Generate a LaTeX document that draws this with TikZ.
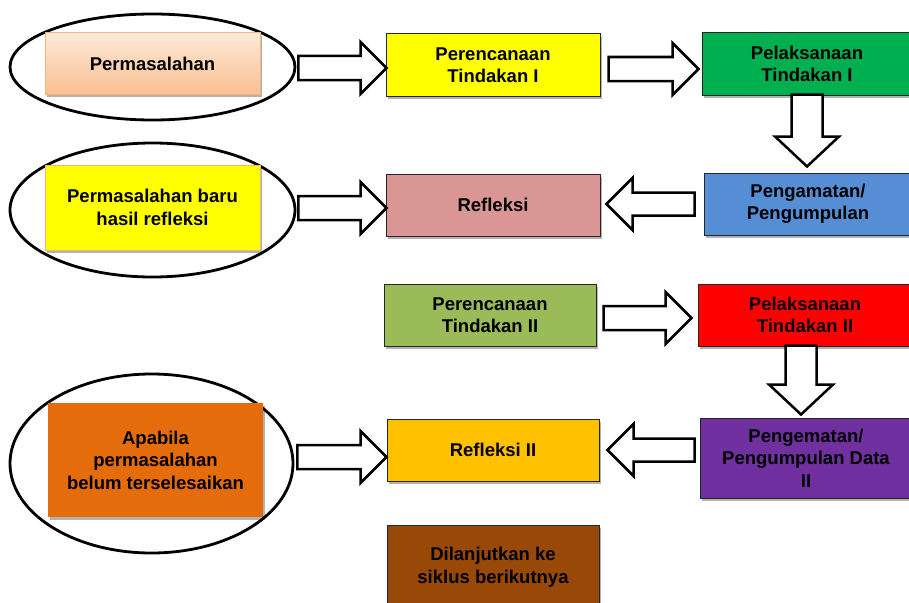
\documentclass[tikz,border=0pt]{standalone}
\usepackage{fontspec}
\setmainfont{Liberation Sans}
\usepackage{tikz}
\usetikzlibrary{calc, shapes.geometric, shadows}
\definecolor{garis}{HTML}{262626}
\definecolor{jinggamuda}{HTML}{FDE9D9}
\definecolor{jinggatua}{HTML}{FAC090}
\definecolor{jinggagaris}{HTML}{F9B074}
\definecolor{kuning}{HTML}{FFFF00}
\definecolor{hijau}{HTML}{00B050}
\definecolor{biru}{HTML}{558ED5}
\definecolor{merahmuda}{HTML}{D99694}
\definecolor{zaitun}{HTML}{9BBB59}
\definecolor{merah}{HTML}{FF0000}
\definecolor{ungu}{HTML}{7030A0}
\definecolor{emas}{HTML}{FFC000}
\definecolor{coklat}{HTML}{984807}
\definecolor{jingga}{HTML}{E46C0A}

% panah blok: #1 pangkal, #2 ujung
\newcommand{\blokkanan}[2]{%
  \draw[blok] let \p1=#1, \p2=#2 in
    (\x1,\y2+12pt) -- (\x2-26pt,\y2+12pt) -- (\x2-26pt,\y2+26pt) -- (\x2,\y2)
    -- (\x2-26pt,\y2-26pt) -- (\x2-26pt,\y2-12pt) -- (\x1,\y2-12pt) -- cycle;}
\newcommand{\blokkiri}[2]{%
  \draw[blok] let \p1=#1, \p2=#2 in
    (\x1,\y2+11.5pt) -- (\x2+26pt,\y2+11.5pt) -- (\x2+26pt,\y2+26pt) -- (\x2,\y2)
    -- (\x2+26pt,\y2-26pt) -- (\x2+26pt,\y2-11.5pt) -- (\x1,\y2-11.5pt) -- cycle;}
\newcommand{\blokbawah}[2]{%
  \draw[blok] let \p1=#1, \p2=#2 in
    (\x2-15.5pt,\y1) -- (\x2-15.5pt,\y2+30pt) -- (\x2-32pt,\y2+30pt) -- (\x2,\y2)
    -- (\x2+32pt,\y2+30pt) -- (\x2+15.5pt,\y2+30pt) -- (\x2+15.5pt,\y1) -- cycle;}

\begin{document}
\begin{tikzpicture}[x=1pt, y=-1pt,
  kotak/.style={rectangle, draw=garis, line width=1pt,
                minimum width=214pt, minimum height=62pt, align=center,
                font=\bfseries\fontsize{18.5}{22.5}\selectfont,
                drop shadow={shadow xshift=2pt, shadow yshift=-3pt,
                             fill=black, opacity=0.3}},
  lingkar/.style={ellipse, draw, line width=2.8pt, inner sep=0pt},
  blok/.style={draw, fill=white, line width=2.5pt, line join=miter}
]
  \useasboundingbox (0,0) rectangle (909,602);
  \clip (0,0) rectangle (909,602);

  % lingkaran kiri
  \node[lingkar, minimum width=285pt, minimum height=106pt] (e1) at (152.5,67) {};
  \node[lingkar, minimum width=285pt, minimum height=134pt] (e2) at (152.5,210) {};
  \node[lingkar, minimum width=283pt, minimum height=179pt] (e3) at (151.5,463.5) {};

  % kotak
  \node[kotak, draw=jinggagaris, top color=jinggamuda, bottom color=jinggatua,
        minimum width=215pt, minimum height=61pt] (masalah) at (152.5,63.5) {Permasalahan};
  \node[kotak, fill=kuning] (rencana1) at (493,65) {Perencanaan\\Tindakan I};
  \node[kotak, fill=hijau, minimum width=210pt] (laksana1) at (807,64) {Pelaksanaan\\Tindakan I};
  \node[kotak, fill=biru, minimum width=208pt] (amati1) at (808,204) {Pengamatan/\\Pengumpulan};
  \node[kotak, fill=merahmuda] (refleksi1) at (493,205) {Refleksi};
  \node[kotak, draw=jinggagaris, fill=kuning, minimum width=215pt,
        minimum height=85pt] (masalahbaru) at (152.5,207.5) {Permasalahan baru\\hasil refleksi};
  \node[kotak, fill=zaitun, minimum width=212pt] (rencana2) at (490,315) {Perencanaan\\Tindakan II};
  \node[kotak, fill=merah] (laksana2) at (805,315) {Pelaksanaan\\Tindakan II};
  \node[kotak, fill=ungu, minimum width=212pt, minimum height=80pt] (amati2) at (806,458)
        {Pengematan/\\Pengumpulan Data\\II};
  \node[kotak, fill=emas, minimum width=212pt] (refleksi2) at (493,450) {Refleksi II};
  \node[kotak, fill=coklat, minimum width=212pt, minimum height=84pt] (lanjut) at (493,567)
        {Dilanjutkan ke\\siklus berikutnya};
  \node[kotak, draw=none, fill=jingga, minimum width=215pt, minimum height=114pt] (apabila)
        at (155.5,460) {Apabila\\permasalahan\\belum terselesaikan};

  % panah blok
  \blokkanan{($(e1.east)+(2,0)$)}{($(rencana1.west)+(1,3)$)}
  \blokkanan{($(rencana1.east)+(8,0)$)}{($(laksana1.west)+(-3,5)$)}
  \blokbawah{($(laksana1.south)+(0,-1)$)}{($(amati1.north)+(-1,-6)$)}
  \blokkiri{($(amati1.west)+(-9,0)$)}{($(refleksi1.east)+(6,-1)$)}
  \blokkanan{($(e2.east)+(2,0)$)}{($(refleksi1.west)+(1,3)$)}
  \blokkanan{($(rencana2.east)+(7,0)$)}{($(laksana2.west)+(-6,3)$)}
  \blokbawah{($(laksana2.south)+(0,-1)$)}{($(amati2.north)+(-5,-3)$)}
  \blokkiri{($(amati2.west)+(-5,0)$)}{($(refleksi2.east)+(8,0)$)}
  \blokkanan{($(e3.east)+(3,0)$)}{($(refleksi2.west)+(0,7)$)}
\end{tikzpicture}
\end{document}
